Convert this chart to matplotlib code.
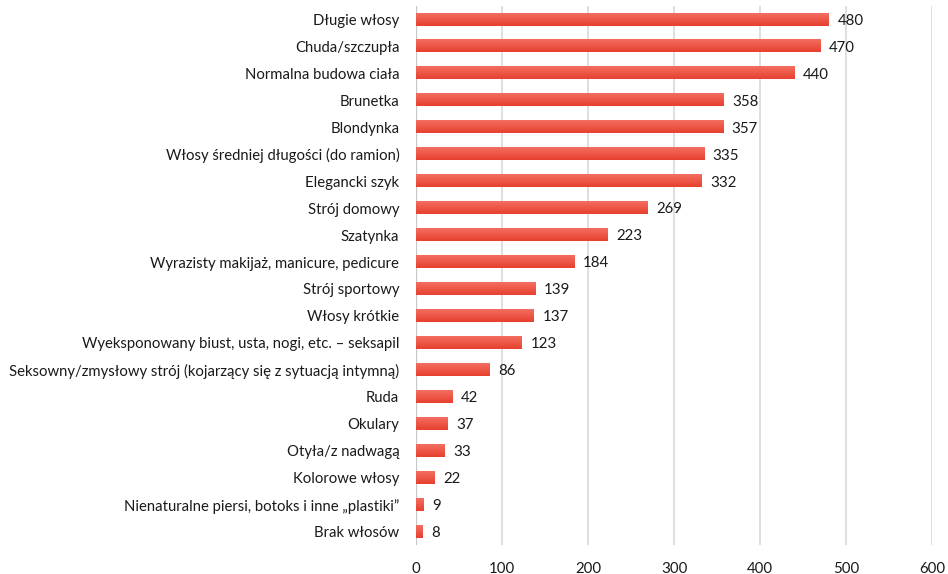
import matplotlib
matplotlib.use("Agg")
import matplotlib.pyplot as plt
import numpy as np
from matplotlib.colors import LinearSegmentedColormap

categories = [
    "Długie włosy", "Chuda/szczupła", "Normalna budowa ciała", "Brunetka", "Blondynka",
    "Włosy średniej długości (do ramion)", "Elegancki szyk", "Strój domowy", "Szatynka",
    "Wyrazisty makijaż, manicure, pedicure", "Strój sportowy", "Włosy krótkie",
    "Wyeksponowany biust, usta, nogi, etc. – seksapil",
    "Seksowny/zmysłowy strój (kojarzący się z sytuacją intymną)", "Ruda", "Okulary",
    "Otyła/z nadwagą", "Kolorowe włosy", "Nienaturalne piersi, botoks i inne „plastiki”",
    "Brak włosów",
]
values = [480, 470, 440, 358, 357, 335, 332, 269, 223, 184, 139, 137, 123, 86, 42, 37, 33, 22, 9, 8]
xticks = [0, 100, 200, 300, 400, 500, 600]

plt.rcParams['font.family'] = ['Lato', 'DejaVu Sans']

fig = plt.figure(figsize=(9.48, 5.74), dpi=100)
ax = fig.add_axes([416/948, 29/574, (932-416)/948, (545-6)/574])

y = np.arange(len(categories))
bars = ax.barh(y, values, height=0.45, color="#EC4A39", zorder=3)

cmap = LinearSegmentedColormap.from_list("g", ["#E8402E", "#F36E61"])
grad = np.linspace(0, 1, 64).reshape(-1, 1)
for b in bars:
    x0, y0 = b.get_x(), b.get_y()
    w, h = b.get_width(), b.get_height()
    ax.imshow(grad, extent=(x0, x0 + w, y0 + h, y0), origin="lower", cmap=cmap,
              aspect="auto", zorder=4, interpolation="bilinear")

for yi, v in zip(y, values):
    ax.text(v + 10, yi + 0.05, str(v), va="center", ha="left", fontsize=10.8, color="#1a1a1a")

ax.set_ylim(len(categories) - 0.5, -0.5)
ax.set_xlim(0, 600)
ax.set_xticks(xticks)
ax.set_xticklabels([str(t) for t in xticks], fontsize=10.8, color="#1a1a1a")
ax.set_yticks(y)
ax.set_yticklabels(categories, fontsize=10.7, color="#1a1a1a")
ax.tick_params(length=0)
ax.tick_params(axis="x", pad=12)
ax.tick_params(axis="y", pad=12)
for s in ax.spines.values():
    s.set_visible(False)
ax.xaxis.grid(True, color="#D9D9D9", linewidth=1.2, zorder=0)
ax.axvline(0, color="#C8C8C8", linewidth=1.6, zorder=2)
ax.set_axisbelow(True)

fig.savefig("out.png", dpi=100)
